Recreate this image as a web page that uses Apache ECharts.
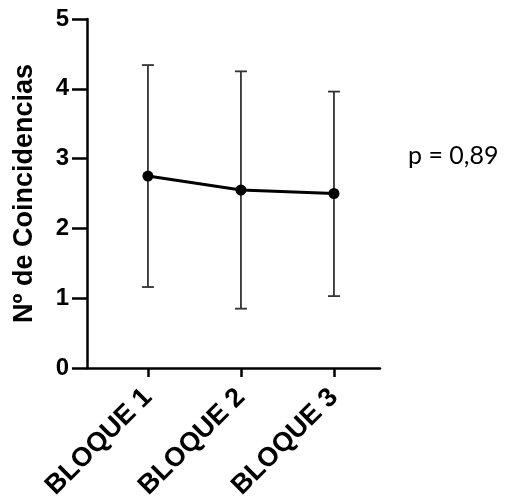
<!DOCTYPE html>
<html>
<head>
<meta charset="utf-8">
<script src="https://cdn.jsdelivr.net/npm/echarts@6/dist/echarts.min.js"></script>
<style>
  html, body { margin: 0; padding: 0; background: #fff; }
  #chart { width: 505px; height: 498px; }
</style>
</head>
<body>
<div id="chart"></div>
<script>
// datos
var bloques = ['BLOQUE 1', 'BLOQUE 2', 'BLOQUE 3'];
var posiciones = [1, 2, 3];
var medias = [2.75, 2.55, 2.50];
var superior = [4.34, 4.25, 3.96];
var inferior = [1.16, 0.85, 1.03];
var yTicks = [0, 1, 2, 3, 4, 5];
var pTexto = 'p = 0,89';

var myChart = echarts.init(document.getElementById('chart'));

var lineData = posiciones.map(function (x, i) { return [x, medias[i]]; });
var errData = posiciones.map(function (x, i) { return [x, inferior[i], superior[i]]; });

var option = {
  backgroundColor: '#fff',
  animation: false,
  grid: { left: 87, right: 125, top: 19, bottom: 130, outerBoundsMode: 'none', containLabel: false },
  xAxis: {
    type: 'value',
    min: 0.345,
    max: 3.495,
    splitLine: { show: false },
    axisLine: { lineStyle: { color: '#000', width: 2.5 } },
    axisTick: { show: true, customValues: posiciones, length: 9, lineStyle: { color: '#000', width: 2.5 } },
    axisLabel: {
      customValues: posiciones,
      rotate: 45,
      margin: 25,
      color: '#000',
      fontFamily: 'Liberation Sans',
      fontWeight: 'bold',
      fontSize: 27,
      formatter: function (v) { return bloques[Math.round(v) - 1]; }
    }
  },
  yAxis: {
    type: 'value',
    min: 0,
    max: 5,
    interval: 1,
    name: 'Nº de Coincidencias',
    nameLocation: 'middle',
    nameGap: 49,
    nameTextStyle: { color: '#000', fontFamily: 'Liberation Sans', fontWeight: 'bold', fontSize: 27 },
    splitLine: { show: false },
    axisLine: { show: true, lineStyle: { color: '#000', width: 2.5 } },
    axisTick: { show: true, length: 15, lineStyle: { color: '#000', width: 2.5 } },
    axisLabel: {
      margin: 18,
      color: '#000',
      fontFamily: 'Liberation Sans',
      fontWeight: 'bold',
      fontSize: 24,
      customValues: yTicks
    }
  },
  series: [
    {
      type: 'custom',
      data: errData,
      z: 1,
      renderItem: function (params, api) {
        var x = api.value(0);
        var lo = api.coord([x, api.value(1)]);
        var hi = api.coord([x, api.value(2)]);
        var w = 6;
        var st = { stroke: '#333', lineWidth: 1.8 };
        return {
          type: 'group',
          children: [
            { type: 'line', shape: { x1: hi[0], y1: hi[1], x2: lo[0], y2: lo[1] }, style: st },
            { type: 'line', shape: { x1: hi[0] - w, y1: hi[1], x2: hi[0] + w, y2: hi[1] }, style: st },
            { type: 'line', shape: { x1: lo[0] - w, y1: lo[1], x2: lo[0] + w, y2: lo[1] }, style: st }
          ]
        };
      }
    },
    {
      type: 'line',
      data: lineData,
      z: 3,
      symbol: 'circle',
      symbolSize: 11,
      lineStyle: { color: '#000', width: 3 },
      itemStyle: { color: '#000' }
    }
  ],
  graphic: [{
    type: 'text',
    left: 408,
    top: 143,
    style: { text: pTexto, fill: '#000', font: '25px Lato' }
  }]
};

myChart.setOption(option);
</script>
</body>
</html>
